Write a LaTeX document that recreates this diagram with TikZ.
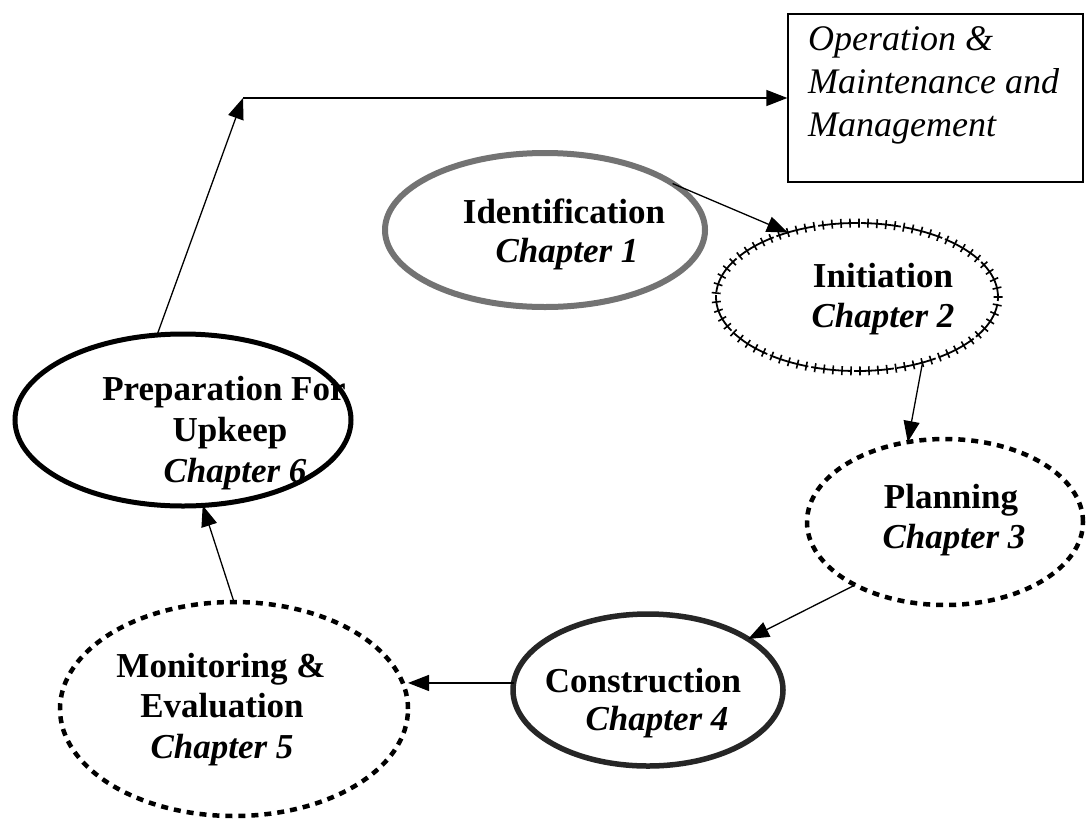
\documentclass[tikz,border=0pt]{standalone}
\usepackage{fontspec}
\setmainfont{Liberation Serif}
\usetikzlibrary{shapes.geometric,arrows.meta,decorations.pathreplacing}
\begin{document}
\begin{tikzpicture}[x=1pt,y=-1pt,
  ell/.style={ellipse, inner sep=0pt, outer sep=0pt},
  grayline/.style={draw=black!55, line width=6pt},
  tickline/.style={draw, line width=1.8pt, dash pattern=on 40pt off 3pt, postaction={decorate, draw, solid, line width=1.6pt, decoration={ticks, segment length=9pt, amplitude=4.5pt}}},
  dashline/.style={draw, line width=4.5pt, dash pattern=on 7pt off 6pt},
  solidline/.style={draw, line width=5pt},
  darkline/.style={draw=black!85, line width=5.5pt},
  ttl/.style={anchor=base, inner sep=0pt, font=\fontsize{35}{40}\selectfont\bfseries},
  chp/.style={anchor=base, inner sep=0pt, font=\fontsize{35}{40}\selectfont\bfseries\itshape},
  boxt/.style={anchor=base west, inner sep=0pt, font=\fontsize{36}{43}\selectfont\itshape},
  arr/.style={line width=1.3pt, -{Triangle[length=21pt,width=16pt]}}
]
\useasboundingbox (0,0) rectangle (1086,825);
\fill[white] (0,0) rectangle (1086,825);

% ellipses
\node[ell, grayline, minimum width=320pt, minimum height=154pt] (id) at (545,230) {};
\node[ell, tickline, minimum width=282pt, minimum height=148pt] (ini) at (857,297) {};
\node[ell, dashline, minimum width=276pt, minimum height=166pt] (pla) at (945,522) {};
\node[ell, darkline, minimum width=270pt, minimum height=152pt] (con) at (648,690) {};
\node[ell, dashline, minimum width=348pt, minimum height=214pt] (mon) at (234,709) {};
\node[ell, solidline, minimum width=336pt, minimum height=172pt] (prep) at (183,420) {};

% box
\node[draw, line width=1.3pt, minimum width=295pt, minimum height=168pt, inner sep=0pt] (box) at (935.5,98) {};
\node[boxt] (b1) at (808,50) {Operation \&};
\node[boxt] (b2) at (808,93) {Maintenance and};
\node[boxt] (b3) at (808,136) {Management};

% labels
\node[ttl] (idt) at (564,223) {Identification};
\node[chp] (idc) at (567,262) {Chapter 1};
\node[ttl] (init) at (883,287) {Initiation};
\node[chp] (inic) at (883,327) {Chapter 2};
\node[ttl] (plat) at (951,508) {Planning};
\node[chp] (plac) at (954,548) {Chapter 3};
\node[ttl] (cont) at (643,692) {Construction};
\node[chp] (conc) at (657,730) {Chapter 4};
\node[ttl] (mont1) at (221,677) {Monitoring \&};
\node[ttl] (mont2) at (222,717) {Evaluation};
\node[chp] (monc) at (222,758) {Chapter 5};
\node[ttl] (prept1) at (224,400) {Preparation For};
\node[ttl] (prept2) at (230,441) {Upkeep};
\node[chp] (prepc) at (235,482) {Chapter 6};

% connectors
\coordinate (corner) at (243,98);
\draw[arr] (id.20) -- (ini.137);
\draw[arr] (ini.-45) -- (pla.115);
\draw[arr] (pla.215) -- (con.27);
\draw[arr] (con.177) -- (con.177 -| mon.east);
\draw[arr] (mon.north) -- (prep.-77);
\draw[arr] (prep.107) -- (corner);
\draw[arr] (corner) -- (box.west);
\end{tikzpicture}
\end{document}
